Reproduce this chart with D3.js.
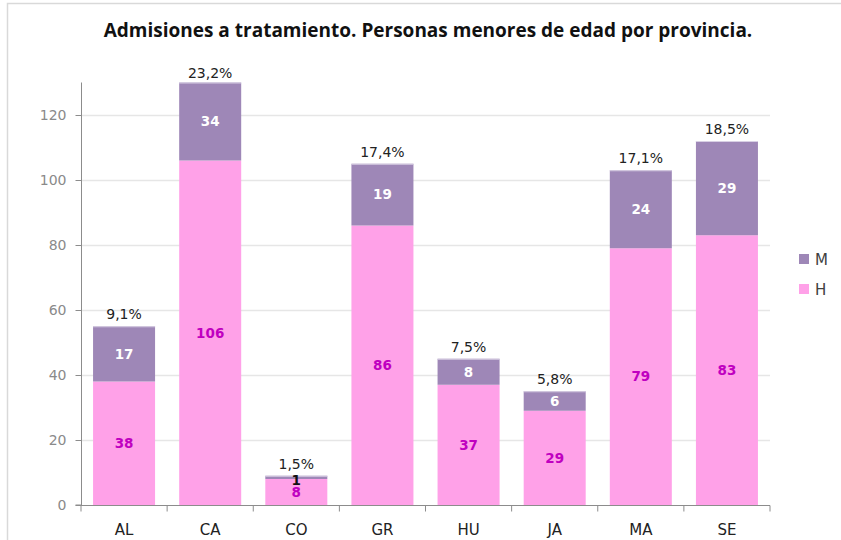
<!DOCTYPE html>
<html><head><meta charset="utf-8">
<script src="https://cdn.jsdelivr.net/npm/d3@7"></script>
<style>body{margin:0;background:#fff}svg{display:block}</style>
</head><body>
<script>
const categories = ["AL","CA","CO","GR","HU","JA","MA","SE"];
const valuesH = [38,106,8,86,37,29,79,83];
const valuesM = [17,34,1,19,8,6,24,29];
const pctLabels = ["9,1%","23,2%","1,5%","17,4%","7,5%","5,8%","17,1%","18,5%"];
const yTicks = [0,20,40,60,80,100,120];
const yMax = 130;
const seriesNames = ["M","H"];

const W = 841, H = 540;
const svg = d3.select("body").append("svg").attr("width", W).attr("height", H);
const font = "'Open Sans', 'DejaVu Sans', sans-serif";
const vfont = "'DejaVu Sans', Verdana, sans-serif";

svg.append("rect").attr("x",7.5).attr("y",3.5).attr("width",W+10).attr("height",H+10)
  .attr("fill","#fff").attr("stroke","#d9d9d9").attr("stroke-width",1.5);

const x0 = 81, x1 = 770, yBase = 505;
const x = d3.scaleBand().domain(categories).range([x0,x1]).paddingInner(0.28).paddingOuter(0.14);
const y = d3.scaleLinear().domain([0,yMax]).range([yBase,82.5]);
const yTop = y(yMax);

// gridlines
svg.append("g").selectAll("line").data(yTicks.filter(t=>t>0)).join("line")
  .attr("x1",x0).attr("x2",x1).attr("y1",d=>y(d)+0.5).attr("y2",d=>y(d)+0.5)
  .attr("stroke","#e6e6e6").attr("stroke-width",1.3);

// y axis
const yAxis = svg.append("g").attr("transform",`translate(${x0+0.5},0)`)
  .call(d3.axisLeft(y).tickValues(yTicks).tickSize(6).tickPadding(9));
yAxis.select(".domain").attr("stroke","#8c8c8c").attr("d",`M-6,${y(0)}H0V${yTop}`);
yAxis.selectAll(".tick line").attr("stroke","#8c8c8c");
yAxis.selectAll("text").attr("fill","#8a8a8a").attr("font-family",vfont).attr("font-size",14);

// x axis
const xAxis = svg.append("g").attr("transform",`translate(0,${yBase+0.5})`);
xAxis.append("line").attr("x1",x0).attr("x2",x1).attr("stroke","#8c8c8c");
const bounds = d3.range(categories.length+1).map(i=>x0+(x1-x0)*i/categories.length);
xAxis.selectAll("line.t").data(bounds).join("line").attr("class","t")
  .attr("x1",d=>d).attr("x2",d=>d).attr("y1",0).attr("y2",6).attr("stroke","#8c8c8c");
xAxis.selectAll("text").data(categories).join("text")
  .attr("x",d=>x(d)+x.bandwidth()/2).attr("y",29).attr("text-anchor","middle")
  .attr("font-family",vfont).attr("font-size",15).attr("fill","#222").text(d=>d);

const colH = "#ffa1e8", colM = "#9e87b7";
const data = categories.map((c,i)=>({c,h:valuesH[i],m:valuesM[i],p:pctLabels[i]}));
const cl = v => Math.min(v, yMax);

const g = svg.append("g");
g.selectAll("rect.h").data(data).join("rect").attr("class","h")
  .attr("x",d=>x(d.c)).attr("width",x.bandwidth())
  .attr("y",d=>y(cl(d.h))).attr("height",d=>y(0)-y(cl(d.h))).attr("fill",colH);
g.selectAll("rect.m").data(data).join("rect").attr("class","m")
  .attr("x",d=>x(d.c)).attr("width",x.bandwidth())
  .attr("y",d=>y(cl(d.h+d.m))).attr("height",d=>y(cl(d.h))-y(cl(d.h+d.m))).attr("fill",colM);
g.selectAll("line.top").data(data).join("line").attr("class","top")
  .attr("x1",d=>x(d.c)).attr("x2",d=>x(d.c)+x.bandwidth())
  .attr("y1",d=>y(cl(d.h+d.m))+0.5).attr("y2",d=>y(cl(d.h+d.m))+0.5)
  .attr("stroke","#d8d0e4").attr("stroke-width",1);

// labels
g.selectAll("text.h").data(data).join("text").attr("class","h")
  .attr("x",d=>x(d.c)+x.bandwidth()/2).attr("y",d=>y(d.h/2)).attr("dy","0.36em")
  .attr("text-anchor","middle").attr("font-family",vfont).attr("font-weight","bold")
  .attr("font-size",13.5).attr("fill","#c000c0").text(d=>d.h);
g.selectAll("text.m").data(data).join("text").attr("class","m")
  .attr("x",d=>x(d.c)+x.bandwidth()/2)
  .attr("y",d=>d.m<3 ? y(d.h+d.m)+4 : y((d.h+cl(d.h+d.m))/2)).attr("dy","0.36em")
  .attr("text-anchor","middle").attr("font-family",vfont).attr("font-weight","bold")
  .attr("font-size",13.5).attr("fill",d=>d.m<3?"#111":"#fff").text(d=>d.m);
g.selectAll("text.p").data(data).join("text").attr("class","p")
  .attr("x",d=>x(d.c)+x.bandwidth()/2)
  .attr("y",d=>Math.max(y(cl(d.h+d.m))-7, yTop-4.5))
  .attr("text-anchor","middle").attr("font-family",vfont)
  .attr("font-size",14).attr("fill","#222").text(d=>d.p);

// title
svg.append("text").attr("x",428).attr("y",37).attr("text-anchor","middle")
  .attr("font-family",font).attr("font-weight","bold").attr("font-size",19).attr("fill","#111")
  .text("Admisiones a tratamiento. Personas menores de edad por provincia.");

// legend
const leg = svg.append("g").attr("transform","translate(799,254)");
const legCols = [colM,colH];
seriesNames.forEach((s,i)=>{
  leg.append("rect").attr("x",0).attr("y",i*30).attr("width",10).attr("height",10).attr("fill",legCols[i]);
  leg.append("text").attr("x",16).attr("y",i*30+11).attr("font-family",vfont).attr("font-size",15)
    .attr("fill","#404040").text(s);
});
</script>
</body></html>
